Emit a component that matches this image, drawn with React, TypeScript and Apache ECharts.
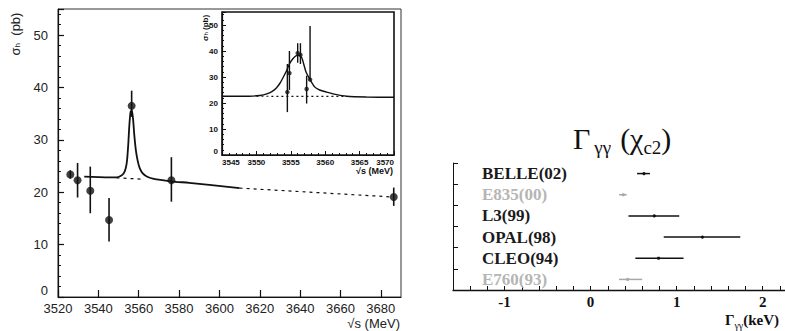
import React, { useEffect, useRef } from "react";
import * as echarts from "echarts";

// ---- main panel: sigma_h vs sqrt(s) ----
const mainX = [3526.1, 3529.7, 3536.0, 3545.3, 3556.5, 3576.2, 3686.4];
const mainY = [23.4, 22.3, 20.3, 14.7, 36.5, 22.3, 19.1];
const mainLo = [22.6, 19.0, 16.0, 10.6, 34.4, 18.2, 17.4];
const mainHi = [24.2, 25.6, 24.9, 18.9, 39.4, 26.7, 20.9];

const fitX = [3533, 3540, 3545, 3549, 3551, 3552.5, 3553.5, 3554.2, 3554.8, 3555.4, 3556.0, 3556.6, 3557.2, 3557.8, 3558.6, 3559.5, 3560.5, 3562, 3564, 3567, 3576, 3585, 3595, 3610];
const fitY = [23.0, 22.9, 22.85, 22.85, 23.1, 23.6, 24.5, 26.0, 29.0, 33.0, 35.4, 35.6, 34.0, 31.0, 28.0, 26.0, 24.6, 23.6, 23.0, 22.6, 22.1, 21.8, 21.4, 20.8];
const bgPeakX = [3549, 3562];
const bgPeakY = [22.75, 22.5];
const bgTailX = [3610, 3686];
const bgTailY = [20.8, 19.1];

// ---- inset ----
const insX = [3554.5, 3554.8, 3556.0, 3556.4, 3557.3, 3557.8];
const insY = [24.2, 31.5, 39.2, 38.5, 25.4, 29.0];
const insLo = [16.5, 25.0, 35.5, 35.0, 19.8, 29.0];
const insHi = [35.0, 40.0, 43.0, 43.0, 30.5, 49.6];
const insFitX = [3545, 3549, 3550.5, 3551.5, 3552.3, 3552.9, 3553.4, 3553.9, 3554.4, 3554.8, 3555.3, 3555.8, 3556.2, 3556.6, 3557.2, 3557.8, 3558.5, 3559.2, 3560.2, 3561.5, 3563.1, 3566, 3570];
const insFitY = [22.6, 22.6, 22.9, 23.5, 24.5, 25.8, 27.5, 29.9, 32.5, 35.0, 37.0, 38.2, 38.3, 37.4, 32.0, 29.0, 26.1, 25.0, 24.2, 23.3, 22.6, 22.3, 22.2];
const insBgX = [3550, 3563];
const insBgY = [22.6, 22.5];

// ---- right panel: Gamma_gammagamma(chi_c2) ----
const expLabels = ["BELLE(02)", "E835(00)", "L3(99)", "OPAL(98)", "CLEO(94)", "E760(93)"];
const gVal = [0.62, 0.38, 0.74, 1.3, 0.79, 0.43];
const gLo = [0.54, 0.33, 0.44, 0.85, 0.52, 0.33];
const gHi = [0.69, 0.42, 1.03, 1.74, 1.08, 0.6];
const faded = [false, true, false, false, false, true];
const gTickLabels = [-1, 0, 1, 2];

const INK = "#111";
const GRAY = "#a8a8a8";
const SANS = "Liberation Sans, Arial, sans-serif";
const SERIF = "Liberation Serif, Times New Roman, serif";

const plain = (v: number) => String(v);

function vErr(stroke: string, lw: number) {
  return (params: any, api: any) => {
    const x = api.value(0);
    const a = api.coord([x, api.value(1)]);
    const b = api.coord([x, api.value(2)]);
    return {
      type: "line",
      shape: { x1: a[0], y1: a[1], x2: b[0], y2: b[1] },
      style: { stroke, lineWidth: lw },
    };
  };
}

export default function App() {
  const ref = useRef<HTMLDivElement>(null);
  useEffect(() => {
    document.body.style.margin = "0";
    const chart = echarts.init(ref.current!, null, { renderer: "svg" });
    const option: any = {
      animation: false,
      backgroundColor: "#fff",
      grid: [
        { left: 58, top: 9, width: 343, height: 288, show: true, borderColor: "#333", borderWidth: 1, backgroundColor: "transparent" },
        { left: 222, top: 12, width: 172, height: 143, show: true, borderColor: INK, borderWidth: 1.6, backgroundColor: "#fff", z: 5 },
        { left: 453, top: 163, width: 332, height: 127, show: false },
      ],
      xAxis: [
        {
          gridIndex: 0, type: "value", min: 3520, max: 3690, interval: 20,
          axisLine: { show: true, onZero: false, lineStyle: { color: INK, width: 1.2 } },
          axisTick: { show: true, inside: true, length: 7, lineStyle: { color: INK, width: 1.2 } },
          axisLabel: { fontFamily: SANS, fontSize: 13, color: "#222", margin: 5, showMaxLabel: false, formatter: plain },
          splitLine: { show: false },
        },
        {
          gridIndex: 1, type: "value", min: 3545, max: 3570, interval: 5, z: 6,
          axisLine: { show: true, onZero: false, lineStyle: { color: INK, width: 1.2 } },
          axisTick: { show: true, inside: true, length: 4, lineStyle: { color: INK } },
          minorTick: { show: true, splitNumber: 5, length: 2, lineStyle: { color: INK } },
          axisLabel: { fontFamily: SANS, fontSize: 8, fontWeight: "bold", color: INK, margin: 3, formatter: plain, alignMinLabel: "left", alignMaxLabel: "right" },
          splitLine: { show: false },
        },
        {
          gridIndex: 2, type: "value", min: -1.6, max: 2.26, interval: 0.2,
          axisLine: { show: true, onZero: false, lineStyle: { color: INK, width: 1.3 } },
          axisTick: { show: true, inside: true, length: 4, lineStyle: { color: INK } },
          axisLabel: {
            fontFamily: SERIF, fontSize: 15, fontWeight: "bold", color: INK, margin: 4, showMaxLabel: false,
            formatter: (v: number) => {
              const r = Math.round(v);
              return Math.abs(v - r) < 1e-6 && gTickLabels.indexOf(r) >= 0 ? String(r) : "";
            },
          },
          splitLine: { show: false },
        },
      ],
      yAxis: [
        {
          gridIndex: 0, type: "value", min: 0, max: 55, interval: 10,
          axisLine: { show: true, onZero: false, lineStyle: { color: INK, width: 1.2 } },
          axisTick: { show: true, inside: true, length: 6, lineStyle: { color: INK, width: 1.2 } },
          minorTick: { show: true, splitNumber: 5, length: 3, lineStyle: { color: INK } },
          axisLabel: { fontFamily: SANS, fontSize: 13, color: "#222", margin: 10, showMaxLabel: false, verticalAlignMinLabel: "bottom" },
          splitLine: { show: false },
        },
        {
          gridIndex: 1, type: "value", min: 0, max: 55, interval: 10, z: 6,
          axisLine: { show: true, onZero: false, lineStyle: { color: INK, width: 1.2 } },
          axisTick: { show: true, inside: true, length: 4, lineStyle: { color: INK } },
          minorTick: { show: true, splitNumber: 5, length: 2, lineStyle: { color: INK } },
          axisLabel: { fontFamily: SANS, fontSize: 8, fontWeight: "bold", color: INK, margin: 4, showMaxLabel: false, verticalAlignMinLabel: "bottom" },
          splitLine: { show: false },
        },
        {
          gridIndex: 2, type: "category", data: expLabels, inverse: true,
          axisLine: { show: true, onZero: false, lineStyle: { color: INK, width: 1 } },
          axisTick: { show: true, inside: true, length: 5, lineStyle: { color: INK, width: 1 } },
          axisLabel: {
            inside: true, interval: 0, margin: 29, fontFamily: SERIF, fontSize: 17, fontWeight: "bold",
            color: (_v: any, i: number) => (faded[i] ? "#b5b5b5" : "#1a1a1a"),
          },
          splitLine: { show: false },
        },
      ],
      series: [
        // main panel
        { type: "line", xAxisIndex: 0, yAxisIndex: 0, data: fitX.map((x, i) => [x, fitY[i]]), showSymbol: false, smooth: 0.25, lineStyle: { color: INK, width: 1.8 }, z: 3 },
        { type: "line", xAxisIndex: 0, yAxisIndex: 0, data: bgPeakX.map((x, i) => [x, bgPeakY[i]]), showSymbol: false, lineStyle: { color: INK, width: 1.2, type: [3, 4] }, z: 3 },
        { type: "line", xAxisIndex: 0, yAxisIndex: 0, data: bgTailX.map((x, i) => [x, bgTailY[i]]), showSymbol: false, lineStyle: { color: INK, width: 1.2, type: [3, 4] }, z: 3 },
        { type: "custom", xAxisIndex: 0, yAxisIndex: 0, data: mainX.map((x, i) => [x, mainLo[i], mainHi[i]]), encode: { x: 0, y: [1, 2] }, renderItem: vErr(INK, 1.6), z: 4 },
        { type: "scatter", xAxisIndex: 0, yAxisIndex: 0, data: mainX.map((x, i) => [x, mainY[i]]), symbol: "circle", symbolSize: 8, itemStyle: { color: INK }, z: 4 },
        // inset
        { type: "line", xAxisIndex: 1, yAxisIndex: 1, data: insFitX.map((x, i) => [x, insFitY[i]]), showSymbol: false, smooth: 0.25, lineStyle: { color: INK, width: 1.4 }, z: 7 },
        { type: "line", xAxisIndex: 1, yAxisIndex: 1, data: insBgX.map((x, i) => [x, insBgY[i]]), showSymbol: false, lineStyle: { color: INK, width: 1.2, type: [2, 3] }, z: 7 },
        { type: "custom", xAxisIndex: 1, yAxisIndex: 1, data: insX.map((x, i) => [x, insLo[i], insHi[i]]), encode: { x: 0, y: [1, 2] }, renderItem: vErr(INK, 1.4), z: 8 },
        { type: "scatter", xAxisIndex: 1, yAxisIndex: 1, data: insX.map((x, i) => [x, insY[i]]), symbol: "circle", symbolSize: 4.5, itemStyle: { color: INK }, z: 8 },
        // right panel
        {
          type: "custom", xAxisIndex: 2, yAxisIndex: 2,
          data: expLabels.map((_l, i) => [gLo[i], gHi[i], i, gVal[i]]),
          encode: { x: [0, 1], y: 2 },
          renderItem: (params: any, api: any) => {
            const idx = api.value(2);
            const col = faded[params.dataIndex] ? GRAY : INK;
            const a = api.coord([api.value(0), idx]);
            const b = api.coord([api.value(1), idx]);
            const c = api.coord([api.value(3), idx]);
            return {
              type: "group",
              children: [
                { type: "line", shape: { x1: a[0], y1: a[1], x2: b[0], y2: b[1] }, style: { stroke: col, lineWidth: 1.5 } },
                { type: "circle", shape: { cx: c[0], cy: c[1], r: 1.6 }, style: { fill: col } },
              ],
            };
          },
        },
      ],
      graphic: [
        {
          type: "text", x: 15, y: 34, rotation: Math.PI / 2, z: 10,
          style: {
            text: "{n|σ}{s|h}{n|  (pb)}", align: "center", verticalAlign: "middle", fill: "#222",
            rich: { n: { fontFamily: SANS, fontSize: 13, fill: "#222" }, s: { fontFamily: SANS, fontSize: 8, fill: "#222", verticalAlign: "bottom" } },
          },
        },
        { type: "text", x: 400, y: 323, z: 10, style: { text: "√s (MeV)", align: "right", verticalAlign: "middle", fontFamily: SANS, fontSize: 13, fill: "#222" } },
        {
          type: "text", x: 205, y: 28, rotation: Math.PI / 2, z: 10,
          style: {
            text: "{n|σ}{s|h}{n| (pb)}", align: "center", verticalAlign: "middle", fill: INK,
            rich: { n: { fontFamily: SANS, fontSize: 8, fontWeight: "bold", fill: INK }, s: { fontFamily: SANS, fontSize: 6, fill: INK, verticalAlign: "bottom" } },
          },
        },
        { type: "text", x: 393, y: 171, z: 10, style: { text: "√s (MeV)", align: "right", verticalAlign: "middle", fontFamily: SANS, fontSize: 9, fontWeight: "bold", fill: INK } },
        {
          type: "text", x: 573, y: 138, z: 10,
          style: {
            text: "{b|Γ}{s|γγ}{b|(χ}{s2|c2}{b|)}", align: "left", verticalAlign: "middle",
            rich: {
              b: { fontFamily: SERIF, fontSize: 30, fill: INK, lineHeight: 38 },
              s: { fontFamily: SERIF, fontSize: 19, fill: INK, verticalAlign: "bottom", lineHeight: 38, padding: [0, 9, 0, 4] },
              s2: { fontFamily: SERIF, fontSize: 19, fill: INK, verticalAlign: "bottom", lineHeight: 38 },
            },
          },
        },
        {
          type: "text", x: 752, y: 320, z: 10,
          style: {
            text: "{b|Γ}{s|γγ}{b|(keV)}", align: "center", verticalAlign: "middle",
            rich: {
              b: { fontFamily: SERIF, fontSize: 15, fontWeight: "bold", fill: INK, lineHeight: 20 },
              s: { fontFamily: SERIF, fontSize: 10, fill: INK, verticalAlign: "bottom", lineHeight: 20 },
            },
          },
        },
      ],
    };
    chart.setOption(option);
    return () => chart.dispose();
  }, []);
  return <div ref={ref} style={{ width: 785, height: 331 }} />;
}
